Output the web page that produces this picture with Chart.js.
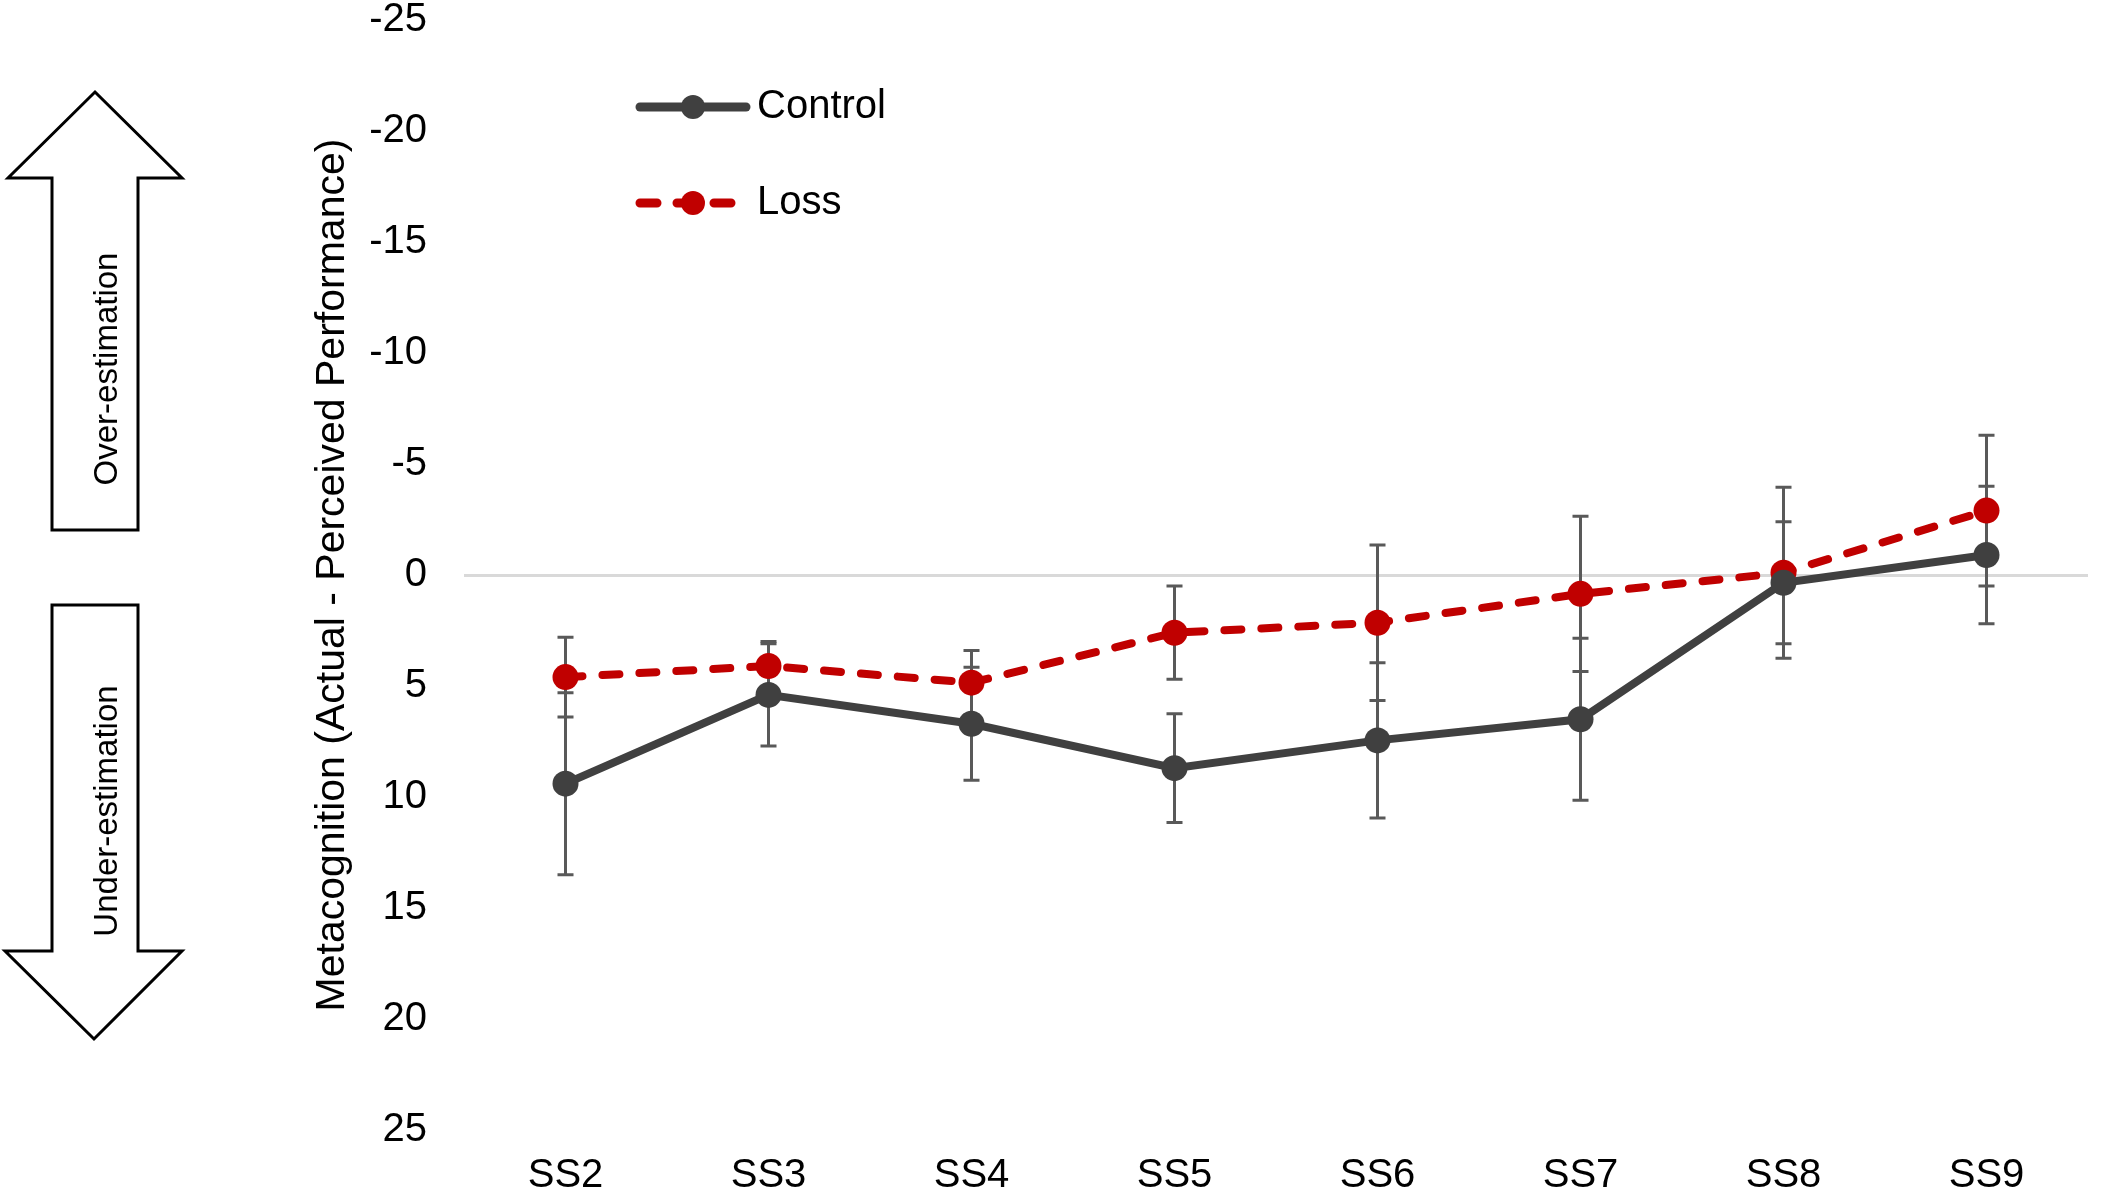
<!DOCTYPE html>
<html>
<head>
<meta charset="utf-8">
<script src="https://cdn.jsdelivr.net/npm/chart.js"></script>
<style>
  html, body { margin: 0; padding: 0; background: #fff; }
  #wrap { position: relative; width: 2101px; height: 1195px; }
  #chart { position: absolute; left: 0; top: 0; }
  #arrows { position: absolute; left: 0; top: 0; }
  #arrows text { font-family: "Liberation Sans", Arial, sans-serif; font-size: 33px; fill: #000; }
</style>
</head>
<body>
<div id="wrap">
  <canvas id="chart" width="2101" height="1195"></canvas>
  <svg id="arrows" width="300" height="1195">
    <polygon points="95,92 182,178 138,178 138,530 52,530 52,178 8,178" fill="#fff" stroke="#000" stroke-width="3" stroke-linejoin="miter"/>
    <text transform="translate(117,369) rotate(-90)" text-anchor="middle">Over-estimation</text>
    <polygon points="52,605 138,605 138,951 182,951 94,1039 5,951 52,951" fill="#fff" stroke="#000" stroke-width="3" stroke-linejoin="miter"/>
    <text transform="translate(117,811) rotate(-90)" text-anchor="middle">Under-estimation</text>
  </svg>
</div>
<script>
// data
const sessions = ["SS2", "SS3", "SS4", "SS5", "SS6", "SS7", "SS8", "SS9"];
const controlMean = [9.4, 5.4, 6.7, 8.7, 7.45, 6.5, 0.35, -0.9];
const controlErr = [4.1, 2.3, 2.55, 2.45, 3.5, 3.65, 2.75, 3.1];
const lossMean = [4.6, 4.1, 4.85, 2.6, 2.15, 0.85, -0.1, -2.9];
const lossErr = [1.8, 1.1, 1.45, 2.1, 3.5, 3.5, 3.85, 3.4];
const yTicks = [-25, -20, -15, -10, -5, 0, 5, 10, 15, 20, 25];

const FONT = "'Liberation Sans', Arial, sans-serif";
Chart.defaults.font.family = FONT;
Chart.defaults.color = "#000";

// error bars drawn under the lines
const errorBars = {
  id: "errorBars",
  beforeDatasetsDraw(chart) {
    const ctx = chart.ctx;
    const y = chart.scales.y;
    ctx.save();
    ctx.strokeStyle = "#595959";
    ctx.lineWidth = 3;
    chart.data.datasets.forEach((ds, i) => {
      const meta = chart.getDatasetMeta(i);
      meta.data.forEach((pt, j) => {
        const v = ds.data[j], e = ds.errors[j];
        const top = y.getPixelForValue(v - e);
        const bot = y.getPixelForValue(v + e);
        ctx.beginPath();
        ctx.moveTo(pt.x, top); ctx.lineTo(pt.x, bot);
        ctx.moveTo(pt.x - 8, top); ctx.lineTo(pt.x + 8, top);
        ctx.moveTo(pt.x - 8, bot); ctx.lineTo(pt.x + 8, bot);
        ctx.stroke();
      });
    });
    ctx.restore();
  }
};

// legend: line + marker + label, as in the figure
const lineLegend = {
  id: "lineLegend",
  afterDraw(chart) {
    const ctx = chart.ctx;
    const rows = [107, 203];
    ctx.save();
    chart.data.datasets.forEach((ds, i) => {
      const yy = rows[i];
      ctx.strokeStyle = ds.borderColor;
      ctx.lineWidth = 9;
      ctx.lineCap = "round";
      ctx.setLineDash(ds.borderDash || []);
      ctx.beginPath();
      ctx.moveTo(640, yy); ctx.lineTo(746, yy);
      ctx.stroke();
      ctx.setLineDash([]);
      ctx.fillStyle = ds.borderColor;
      ctx.beginPath();
      ctx.arc(693, yy, 12, 0, Math.PI * 2);
      ctx.fill();
      ctx.fillStyle = "#000";
      ctx.font = "40px " + FONT;
      ctx.textBaseline = "middle";
      ctx.fillText(ds.label, 757, yy);
    });
    ctx.restore();
  }
};

new Chart(document.getElementById("chart"), {
  type: "line",
  data: {
    labels: sessions,
    datasets: [
      {
        label: "Control",
        data: controlMean,
        errors: controlErr,
        borderColor: "#404040",
        backgroundColor: "#404040",
        borderWidth: 8,
        pointRadius: 13,
        pointBorderWidth: 0,
        pointBackgroundColor: "#404040",
        tension: 0
      },
      {
        label: "Loss",
        data: lossMean,
        errors: lossErr,
        borderColor: "#c00000",
        backgroundColor: "#c00000",
        borderWidth: 8,
        borderDash: [17, 20],
        borderCapStyle: "round",
        pointRadius: 13,
        pointBorderWidth: 0,
        pointBackgroundColor: "#c00000",
        tension: 0
      }
    ]
  },
  options: {
    responsive: false,
    devicePixelRatio: 1,
    animation: false,
    layout: { padding: { left: 308, right: 3, top: 0, bottom: 0 } },
    plugins: {
      legend: { display: false },
      tooltip: { enabled: false }
    },
    scales: {
      x: {
        offset: true,
        grid: { display: false, drawTicks: false },
        border: { display: false },
        ticks: { padding: 27, font: { size: 40, lineHeight: 0.95 }, color: "#000" },
        afterFit(scale) { scale.height = 65; }
      },
      y: {
        reverse: true,
        min: -25,
        max: 25,
        afterBuildTicks(scale) { scale.ticks = yTicks.map(v => ({ value: v })); },
        afterFit(scale) {
          scale.width = 156;
          scale.paddingTop = 20;
          scale.paddingBottom = 19;
        },
        grid: {
          drawTicks: false,
          lineWidth: 3,
          color: c => (c.tick && c.tick.value === 0 ? "#d9d9d9" : "rgba(0,0,0,0)")
        },
        border: { display: false },
        ticks: { padding: 37, font: { size: 40, lineHeight: 0.95 }, color: "#000" },
        title: {
          display: true,
          text: "Metacognition (Actual - Perceived Performance)",
          font: { size: 41, lineHeight: 1.2 },
          color: "#000",
          padding: { top: 0, bottom: 12 }
        }
      }
    }
  },
  plugins: [errorBars, lineLegend]
});
</script>
</body>
</html>
